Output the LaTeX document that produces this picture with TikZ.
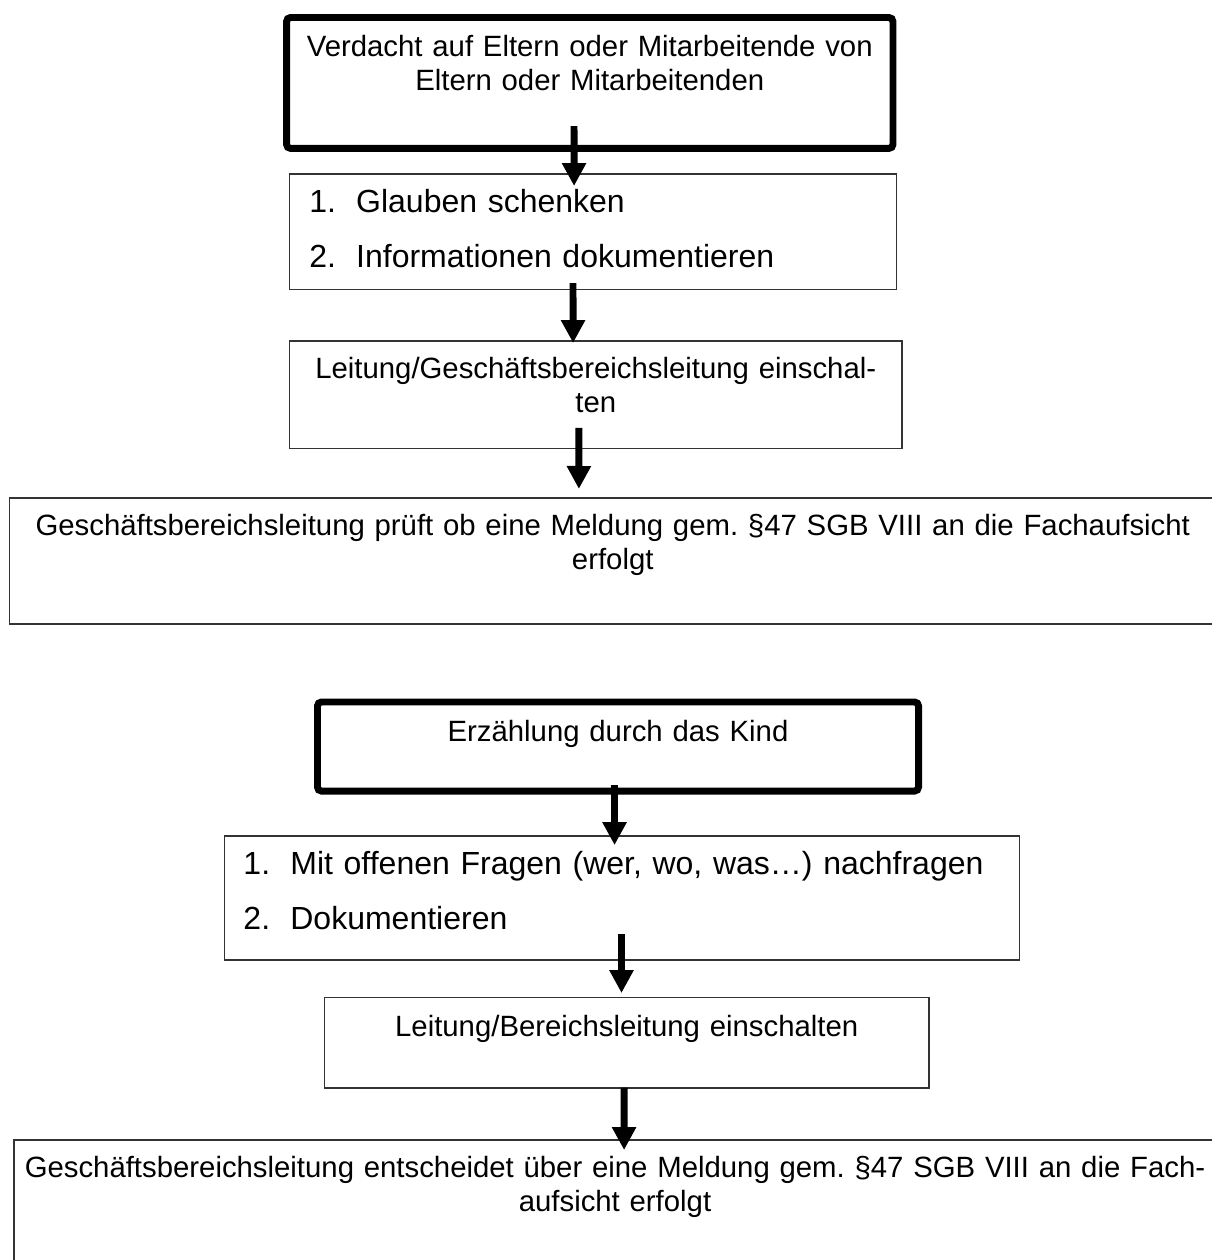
\documentclass[tikz,border=0pt]{standalone}
\usepackage{fontspec}
\setmainfont{Liberation Sans}
\usetikzlibrary{arrows.meta}
\frenchspacing

\tikzset{
  kasten/.style={draw=black!80, line width=0.6pt, outer sep=0pt, inner xsep=0pt, inner ysep=0pt, align=center, anchor=north, font=\fontsize{11pt}{12.75pt}\selectfont},
  dickkasten/.style={kasten, draw=black, line width=2.6pt, rounded corners=1.5pt},
  listenkasten/.style={kasten, align=left, inner xsep=7.4pt, font=\fontsize{12pt}{20.4pt}\selectfont},
  pfeil/.style={line width=2.6pt, -{Triangle[width=8.6pt,length=8.6pt]}}
}
\newcommand{\nr}[1]{\makebox[17.6pt][l]{#1}}

\begin{document}
\begin{tikzpicture}[x=0.375pt,y=-0.375pt]
\useasboundingbox (0,0) rectangle (1211,1260);

%%% oben: Verdacht
\node[dickkasten, text width=227.4pt, text height=14.8pt, text depth=34.3pt] (verdacht) at (589.75,17.5) {Verdacht auf Eltern oder Mitarbeitende von\\Eltern oder Mitarbeitenden};
\node[listenkasten, text width=212.8pt, text height=14.6pt, text depth=28.7pt] (glauben) at (593,174) {\nr{1.}Glauben schenken\\\nr{2.}Informationen dokumentieren};
\node[kasten, text width=229.7pt, text height=13.9pt, text depth=26.4pt] (leitung) at (595.75,341) {Leitung/Geschäftsbereichsleitung einschal-\\ten};
\node[kasten, text width=452.4pt, text height=13.9pt, text depth=33.4pt] (pruefung) at (612.75,498) {Geschäftsbereichsleitung prüft ob eine Meldung gem. §47 SGB VIII an die Fachaufsicht\\erfolgt};

\draw[pfeil] ([xshift=-5.9pt,yshift=8.4pt]verdacht.south) -- ([xshift=-7.1pt,yshift=-4.5pt]glauben.north);
\draw[pfeil] ([xshift=-7.5pt,yshift=2.4pt]glauben.south) -- ([xshift=-8.5pt,yshift=-0.75pt]leitung.north);
\draw[pfeil] ([xshift=-6.3pt,yshift=7.7pt]leitung.south) -- ([xshift=-12.7pt,yshift=3.4pt]pruefung.north);

%%% unten: Erzaehlung
\node[dickkasten, text width=225.4pt, text height=14.9pt, text depth=18.5pt] (erzaehlung) at (618,702) {Erzählung durch das Kind};
\node[listenkasten, inner xsep=7.1pt, text width=283.9pt, text height=14.6pt, text depth=31.9pt] (nachfragen) at (622,836) {\nr{1.}Mit offenen Fragen (wer, wo, was…) nachfragen\\\nr{2.}Dokumentieren};
\node[kasten, text width=226.8pt, text height=14.8pt, text depth=19.1pt] (bereich) at (626.7,997.3) {Leitung/Bereichsleitung einschalten};
\node[kasten, text width=450.8pt, text height=13.9pt, text depth=36.8pt] (entscheid) at (615,1140) {Geschäftsbereichsleitung entscheidet über eine Meldung gem. §47 SGB VIII an die Fach-\\aufsicht erfolgt};

\draw[pfeil] ([xshift=-1.3pt,yshift=2.25pt]erzaehlung.south) -- ([xshift=-2.8pt,yshift=-3.4pt]nachfragen.north);
\draw[pfeil] ([xshift=-0.2pt,yshift=9.75pt]nachfragen.south) -- ([xshift=-1.95pt,yshift=1.6pt]bereich.north);
\draw[pfeil] ([xshift=-1pt]bereich.south) -- ([xshift=3.4pt,yshift=-3.75pt]entscheid.north);
\end{tikzpicture}
\end{document}
